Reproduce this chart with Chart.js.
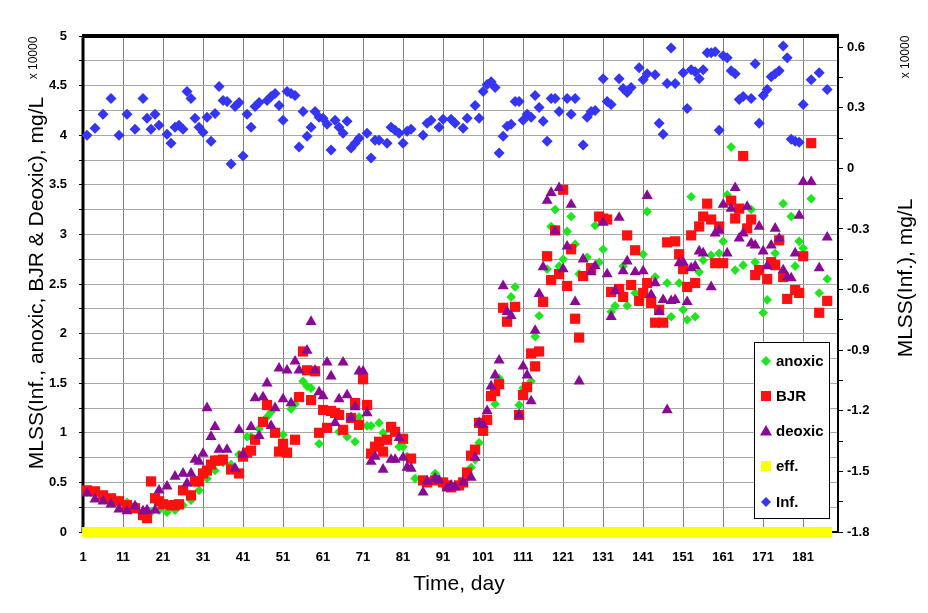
<!DOCTYPE html>
<html>
<head>
<meta charset="utf-8">
<script src="https://cdn.jsdelivr.net/npm/chart.js@4.4.0/dist/chart.umd.min.js"></script>
<style>
html,body{margin:0;padding:0;background:#fff;}
#wrap{width:928px;height:613px;position:relative;}
</style>
</head>
<body>
<div id="wrap"><canvas id="c" width="928" height="613"></canvas></div>
<script>
// ---- data ----
const anoxicDays = [2,4,6,8,10,12,14,16,18,20,22,24,26,28,30,32,34,36,38,40,42,43,45,47,48,51,53,54,56,57,58,60,65,67,69,70,72,73,75,76,80,81,82,84,89,91,93,95,97,98,99,100,104,105,108,109,110,111,113,114,115,117,118,119,120,121,122,123,124,125,127,129,130,131,133,134,136,137,139,141,142,144,147,148,150,151,152,153,154,155,156,158,160,161,162,163,164,166,168,169,171,172,174,176,178,179,180,181,183,185,187];
const anoxicVals = [0.40,0.38,0.35,0.33,0.32,0.30,0.27,0.20,0.20,0.22,0.20,0.22,0.27,0.32,0.42,0.54,0.62,0.70,0.68,0.78,0.96,0.96,1.04,1.16,1.21,0.98,1.24,1.29,1.52,1.47,1.45,0.89,1.01,0.96,0.91,1.16,1.07,1.07,1.10,1.00,0.86,0.86,0.76,0.54,0.59,0.50,0.46,0.48,0.55,0.65,0.73,0.90,1.29,1.55,2.37,2.47,1.28,1.45,1.52,1.97,2.18,2.65,3.08,3.25,2.68,2.75,3.03,3.18,2.90,2.60,2.77,3.09,2.72,2.85,2.22,2.28,2.68,2.28,2.41,2.80,3.23,2.57,2.51,2.17,2.51,2.24,2.14,3.38,2.17,2.62,2.74,2.79,2.81,2.93,3.40,3.88,2.64,2.69,3.25,2.72,2.21,2.34,2.81,3.31,3.18,2.68,2.93,2.86,3.36,2.41,2.55];

const bjrDays = [2,4,6,8,10,12,14,16,17,18,19,20,21,23,24,25,26,28,29,30,31,32,33,34,35,36,38,40,41,42,43,44,46,47,49,50,51,52,54,55,56,57,58,59,60,61,62,63,64,65,66,68,69,70,71,72,73,74,75,76,77,78,79,81,83,86,87,89,91,92,93,95,96,97,98,99,100,101,102,103,104,105,106,107,109,110,111,112,113,114,115,116,117,118,119,120,121,122,123,124,125,126,128,130,131,132,133,135,136,137,138,139,140,141,142,143,144,145,146,147,149,150,151,152,153,154,155,156,157,158,159,160,161,163,164,165,166,167,168,169,170,172,173,174,175,176,177,179,180,181,183,185,187];
const bjrVals = [0.42,0.41,0.37,0.34,0.31,0.27,0.24,0.17,0.14,0.51,0.34,0.31,0.28,0.27,0.27,0.28,0.42,0.37,0.51,0.51,0.59,0.62,0.68,0.72,0.72,0.73,0.63,0.59,0.76,0.80,0.82,0.93,1.11,1.28,1.00,0.81,0.89,0.80,0.93,1.36,1.82,1.63,1.33,1.62,1.00,1.23,1.05,1.22,1.20,1.18,1.03,1.15,1.30,1.08,1.54,1.28,0.79,0.86,0.91,0.81,0.93,1.06,1.01,0.94,0.74,0.52,0.50,0.52,0.50,0.47,0.45,0.47,0.50,0.60,0.77,0.83,1.10,1.02,1.13,1.37,1.42,1.49,2.26,2.12,2.27,1.18,1.38,1.46,1.80,1.67,1.82,2.32,2.78,2.54,3.04,2.60,3.45,2.48,2.85,2.15,1.96,2.58,2.66,3.18,3.16,3.15,2.42,2.45,2.37,2.99,2.49,2.84,2.33,2.41,2.51,2.31,2.11,2.24,2.11,2.92,2.93,2.80,2.65,2.47,2.99,2.51,3.08,3.18,3.31,3.15,2.71,3.08,2.71,3.34,3.16,3.26,3.79,3.06,3.15,2.59,2.64,2.55,2.72,2.69,2.94,2.57,2.35,2.44,2.41,2.78,3.92,2.21,2.33];

const deoxicDays = [2,4,6,8,10,12,14,16,17,19,20,22,24,26,27,28,29,30,31,32,33,34,35,37,39,40,41,43,44,45,46,47,48,49,50,51,52,53,54,55,57,58,59,60,61,62,63,64,65,66,67,68,69,70,71,72,73,74,76,78,79,80,81,82,83,86,87,89,90,92,93,94,96,98,99,100,101,102,103,104,105,106,107,108,110,111,112,113,114,115,116,117,118,119,120,121,122,123,124,125,126,128,129,131,132,133,134,135,136,137,139,141,142,143,144,145,146,147,148,149,150,151,152,153,154,155,156,158,159,160,161,162,163,164,165,166,167,168,169,170,171,172,173,174,175,176,177,178,179,180,181,183,185,187];
const deoxicVals = [0.39,0.33,0.31,0.28,0.23,0.21,0.26,0.21,0.22,0.22,0.42,0.46,0.56,0.59,0.49,0.59,0.73,0.71,0.79,1.25,0.96,1.06,0.83,0.83,0.64,1.03,0.78,1.06,1.35,0.97,1.36,1.50,1.07,1.25,1.65,1.34,1.63,1.30,1.72,1.63,1.83,2.12,1.63,1.41,1.37,1.71,1.57,1.10,1.34,1.71,1.38,1.15,1.26,1.62,1.62,1.20,0.71,0.76,0.63,0.73,0.73,0.95,0.75,0.65,0.64,0.40,0.51,0.54,0.52,0.44,0.47,0.45,0.50,0.55,0.75,1.10,1.08,1.22,1.47,1.58,1.73,2.48,2.22,2.18,1.18,1.67,1.58,1.32,2.03,2.40,2.67,3.34,3.42,3.03,3.47,2.65,2.88,3.30,2.32,1.52,2.75,2.62,2.68,3.12,2.60,2.17,2.43,3.17,2.63,2.73,2.62,2.63,3.39,2.39,2.51,2.22,2.34,1.23,2.33,2.34,2.71,2.72,2.32,2.66,2.68,2.83,2.81,2.47,3.01,3.04,3.30,2.81,3.26,3.47,2.96,3.01,3.28,2.91,2.89,3.08,2.83,2.68,2.89,3.06,2.96,2.64,2.57,2.56,2.81,3.19,3.53,3.53,2.66,2.97];

const effDays = [2,3,4,5,6,7,8,9,10,11,12,13,14,15,16,17,18,19,20,21,22,23,24,25,26,27,28,29,30,31,32,33,34,35,36,37,38,39,40,41,42,43,44,45,46,47,48,49,50,51,52,53,54,55,56,57,58,59,60,61,62,63,64,65,66,67,68,69,70,71,72,73,74,75,76,77,78,79,80,81,82,83,84,85,86,87,88,89,90,91,92,93,94,95,96,97,98,99,100,101,102,103,104,105,106,107,108,109,110,111,112,113,114,115,116,117,118,119,120,121,122,123,124,125,126,127,128,129,130,131,132,133,134,135,136,137,138,139,140,141,142,143,144,145,146,147,148,149,150,151,152,153,154,155,156,157,158,159,160,161,162,163,164,165,166,167,168,169,170,171,172,173,174,175,176,177,178,179,180,181,182,183,184,185,186,187];
const effVals = [0,0,0,0,0,0,0,0,0,0,0,0,0,0,0,0,0,0,0,0,0,0,0,0,0,0,0,0,0,0,0,
0,0,0,0,0,0,0,0,0,0,0,0,0,0,0,0,0,0,0,0,0,0,0,0,0,0,0,0,0,0,0,
0,0,0,0,0,0,0,0,0,0,0,0,0,0,0,0,0,0,0,0,0,0,0,0,0,0,0,0,0,0,0,
0,0,0,0,0,0,0,0,0,0,0,0,0,0,0,0,0,0,0,0,0,0,0,0,0,0,0,0,0,0,0,
0,0,0,0,0,0,0,0,0,0,0,0,0,0,0,0,0,0,0,0,0,0,0,0,0,0,0,0,0,0,0,
0,0,0,0,0,0,0,0,0,0,0,0,0,0,0,0,0,0,0,0,0,0,0,0,0,0,0,0,0,0,0];

const infDays = [2,4,6,8,10,12,14,16,17,18,19,20,22,23,24,25,26,27,28,29,30,31,32,33,34,35,36,37,38,39,40,41,42,43,44,45,47,48,49,50,51,52,53,54,55,56,57,58,59,60,61,62,63,64,65,66,67,68,69,70,72,73,74,75,77,78,79,80,81,82,83,86,87,88,90,91,93,94,96,97,99,100,101,102,103,104,105,106,107,108,109,110,111,112,113,114,115,116,117,118,119,120,122,123,124,126,127,128,129,131,132,133,135,136,137,138,140,141,142,144,145,146,147,148,149,151,152,153,154,155,156,157,158,159,160,161,162,163,164,165,166,168,169,170,171,172,173,174,175,176,177,178,179,180,181,183,185,187];
const infVals = [4.00,4.07,4.21,4.37,4.00,4.21,4.06,4.37,4.17,4.06,4.21,4.10,4.01,3.92,4.08,4.10,4.06,4.44,4.37,4.17,4.08,4.03,4.18,3.94,4.22,4.49,4.35,4.34,3.71,4.29,4.33,3.79,4.21,4.08,4.29,4.33,4.35,4.39,4.42,4.30,4.15,4.44,4.42,4.40,3.88,4.24,3.99,4.08,4.24,4.18,4.17,4.11,3.85,4.15,4.08,4.02,4.14,3.87,3.92,3.97,4.02,3.77,3.95,3.95,3.92,4.08,4.05,4.02,3.92,4.04,4.06,4.00,4.12,4.15,4.08,4.16,4.16,4.12,4.07,4.17,4.30,4.17,4.44,4.51,4.54,4.48,3.82,3.99,4.09,4.11,4.34,4.34,4.15,4.21,4.18,4.40,4.28,4.14,3.94,4.37,4.37,4.24,4.37,4.21,4.37,3.90,4.18,4.24,4.25,4.57,4.34,4.31,4.57,4.47,4.43,4.48,4.68,4.56,4.62,4.61,4.12,4.01,4.52,4.88,4.52,4.63,4.27,4.66,4.64,4.57,4.66,4.83,4.83,4.84,4.05,4.80,4.78,4.65,4.62,4.36,4.39,4.37,4.72,4.12,4.40,4.46,4.59,4.62,4.65,4.90,4.78,3.96,3.94,3.93,4.31,4.56,4.63,4.46];

// axis ticks / labels
const xTicks = [1,11,21,31,41,51,61,71,81,91,101,111,121,131,141,151,161,171,181];
const yTicks = [0,0.25,0.5,0.75,1,1.25,1.5,1.75,2,2.25,2.5,2.75,3,3.25,3.5,3.75,4,4.25,4.5,4.75,5];
const yLabels = ['0','','0.5','','1','','1.5','','2','','2.5','','3','','3.5','','4','','4.5','','5'];
const y2Ticks = [-1.8,-1.65,-1.5,-1.35,-1.2,-1.05,-0.9,-0.75,-0.6,-0.45,-0.3,-0.15,0,0.15,0.3,0.45,0.6];
const y2Labels = ['-1.8','','-1.5','','-1.2','','-0.9','','-0.6','','-0.3','','0','','0.3','','0.6'];
const legendNames = ['anoxic','BJR','deoxic','eff.','Inf.'];
const leftTitle = 'MLSS(Inf., anoxic, BJR & Deoxic), mg/L';
const rightTitle = 'MLSS(Inf.), mg/L';
const unitNote = 'x 10000';
const xTitle = 'Time, day';

// ---- styles ----
const FONT = '"Liberation Sans", Arial, sans-serif';
const C_ANOXIC = '#1ee61e', C_BJR = '#ff1010', C_DEOXIC = '#8a0a96', C_EFF = '#ffff00', C_INF = '#3535f5';

const pts = (d, v) => d.map((x, i) => ({x: x, y: v[i]}));

const deco = {
  id: 'deco',
  beforeDatasetsDraw(chart) {
    const {ctx, chartArea: a} = chart;
    ctx.save();
    ctx.strokeStyle = '#000';
    ctx.lineWidth = 2;
    ctx.strokeRect(a.left, a.top, a.right - a.left, a.bottom - a.top);
    ctx.lineWidth = 4;
    ctx.beginPath(); ctx.moveTo(a.left - 1, a.top); ctx.lineTo(a.right + 1, a.top); ctx.stroke();
    ctx.lineWidth = 3;
    ctx.beginPath(); ctx.moveTo(a.left, a.top); ctx.lineTo(a.left, a.bottom); ctx.stroke();
    ctx.restore();
  },
  afterDraw(chart) {
    const ctx = chart.ctx;
    ctx.save();
    ctx.fillStyle = '#000';
    ctx.textAlign = 'center';
    ctx.textBaseline = 'middle';
    ctx.font = '21px ' + FONT;
    ctx.save(); ctx.translate(37, 283); ctx.rotate(-Math.PI / 2); ctx.fillText(leftTitle, 0, 0); ctx.restore();
    ctx.save(); ctx.translate(906, 278); ctx.rotate(-Math.PI / 2); ctx.fillText(rightTitle, 0, 0); ctx.restore();
    ctx.fillText(xTitle, 459, 584);
    ctx.font = '12px ' + FONT;
    ctx.save(); ctx.translate(34, 58); ctx.rotate(-Math.PI / 2); ctx.fillText(unitNote, 0, 0); ctx.restore();
    ctx.save(); ctx.translate(906, 57); ctx.rotate(-Math.PI / 2); ctx.fillText(unitNote, 0, 0); ctx.restore();

    // legend box
    const lx = 754, ly = 342, lw = 75, lh = 176;
    ctx.fillStyle = '#fff';
    ctx.fillRect(lx, ly, lw, lh);
    ctx.strokeStyle = '#000'; ctx.lineWidth = 1;
    ctx.strokeRect(lx + 0.5, ly + 0.5, lw, lh);
    const ys = [361, 396, 431, 466, 502];
    const colors = [C_ANOXIC, C_BJR, C_DEOXIC, C_EFF, C_INF];
    const shapes = ['diamond', 'square', 'triangle', 'square', 'diamond'];
    ctx.font = 'bold 15px ' + FONT;
    ctx.textAlign = 'left';
    for (let i = 0; i < legendNames.length; i++) {
      const x = 766, y = ys[i];
      ctx.fillStyle = colors[i];
      ctx.beginPath();
      if (shapes[i] === 'diamond') {
        ctx.moveTo(x - 5, y); ctx.lineTo(x, y - 5); ctx.lineTo(x + 5, y); ctx.lineTo(x, y + 5);
      } else if (shapes[i] === 'square') {
        ctx.rect(x - 5, y - 5, 10, 10);
      } else {
        ctx.moveTo(x, y - 6); ctx.lineTo(x + 6, y + 4.5); ctx.lineTo(x - 6, y + 4.5);
      }
      ctx.closePath(); ctx.fill();
      ctx.fillStyle = '#000';
      ctx.fillText(legendNames[i], 776, y + 1);
    }
    ctx.restore();
  }
};

const tickFont = {family: FONT, size: 13, weight: 'bold'};

new Chart(document.getElementById('c'), {
  type: 'scatter',
  data: {
    datasets: [
      {label: 'Inf.', data: pts(infDays, infVals), pointStyle: 'rectRot', pointRadius: 5.5, backgroundColor: C_INF, borderWidth: 0, yAxisID: 'y', clip: false},
      {label: 'eff.', data: pts(effDays, effVals), pointStyle: 'rect', pointRadius: 7, backgroundColor: C_EFF, borderWidth: 0, yAxisID: 'y', clip: false},
      {label: 'deoxic', data: pts(deoxicDays, deoxicVals), pointStyle: 'triangle', pointRadius: 6.4, backgroundColor: C_DEOXIC, borderWidth: 0, yAxisID: 'y', clip: false},
      {label: 'BJR', data: pts(bjrDays, bjrVals), pointStyle: 'rect', pointRadius: 7.2, backgroundColor: C_BJR, borderWidth: 0, yAxisID: 'y', clip: false},
      {label: 'anoxic', data: pts(anoxicDays, anoxicVals), pointStyle: 'rectRot', pointRadius: 4.8, backgroundColor: C_ANOXIC, borderWidth: 0, yAxisID: 'y', clip: false}
    ]
  },
  options: {
    responsive: false,
    animation: false,
    devicePixelRatio: 1,
    layout: {padding: {top: 36, left: 0, right: 0, bottom: 0}},
    plugins: {legend: {display: false}, tooltip: {enabled: false}},
    elements: {point: {hoverRadius: 0}},
    scales: {
      x: {
        type: 'linear', position: 'bottom', min: 1, max: 189.7,
        afterBuildTicks: s => { s.ticks = xTicks.map(v => ({value: v})); },
        afterFit: s => { s.height = 81; },
        grid: {color: '#808080', lineWidth: 1, drawTicks: false},
        border: {display: true, color: '#000', width: 2},
        ticks: {autoSkip: false, maxRotation: 0, padding: 18, color: '#000', font: tickFont,
                callback: v => String(v)}
      },
      y: {
        type: 'linear', position: 'left', min: 0, max: 5,
        afterBuildTicks: s => { s.ticks = yTicks.map(v => ({value: v})); },
        afterFit: s => { s.width = 83; },
        grid: {color: '#a8a8a8', lineWidth: 1, drawTicks: true, tickLength: 4, tickColor: '#000'},
        border: {display: true, color: '#000', width: 2},
        ticks: {autoSkip: false, padding: 12, color: '#000', font: tickFont,
                callback: (v, i) => yLabels[i]}
      },
      y2: {
        type: 'linear', position: 'right', min: -1.8, max: 0.655, display: true,
        afterBuildTicks: s => { s.ticks = y2Ticks.map(v => ({value: v})); },
        afterFit: s => { s.width = 90; },
        grid: {drawOnChartArea: false, drawTicks: true, tickLength: 5, tickColor: '#000'},
        border: {display: true, color: '#000', width: 2},
        ticks: {autoSkip: false, padding: 4, color: '#000', font: tickFont,
                callback: (v, i) => y2Labels[i]}
      }
    }
  },
  plugins: [deco]
});
</script>
</body>
</html>
